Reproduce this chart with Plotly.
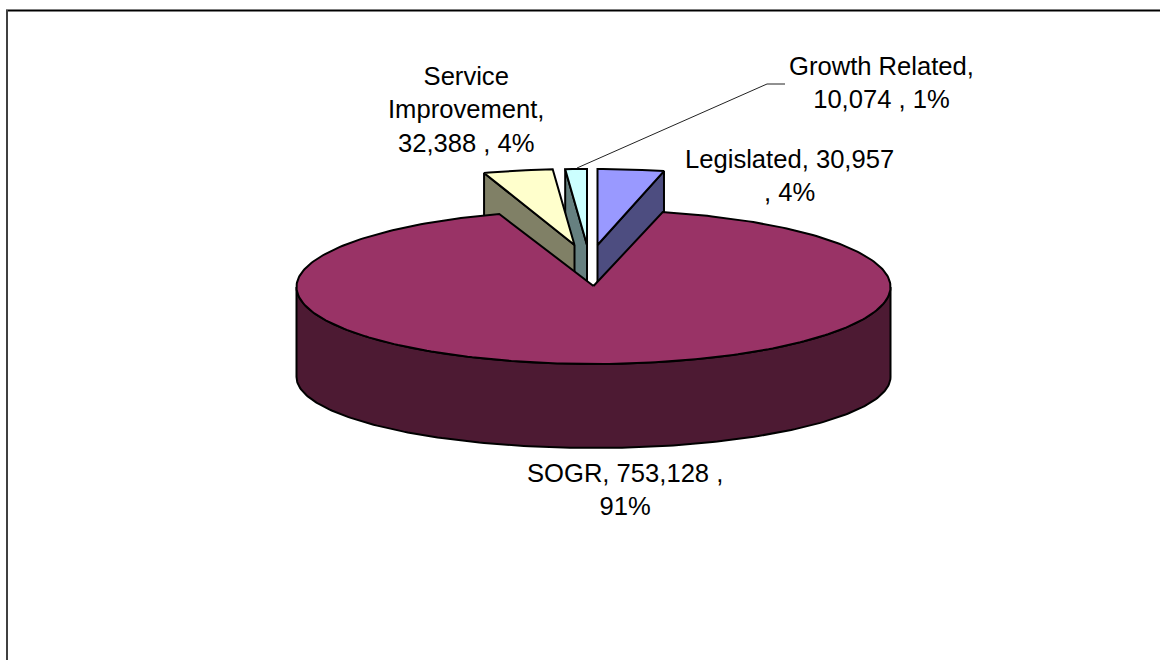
import numpy as np
import plotly.graph_objects as go

# Capital spending by category
categories = ["Legislated", "SOGR", "Service Improvement", "Growth Related"]
values = [30957, 753128, 32388, 10074]
percents = [4, 91, 4, 1]

TOP_COLORS = {"Legislated": "#9999FF", "SOGR": "#993366",
              "Service Improvement": "#FFFFCC", "Growth Related": "#CCFFFF"}
SIDE_COLORS = {"Legislated": "#4D4D80", "SOGR": "#4D1A33",
               "Service Improvement": "#808066", "Growth Related": "#668080"}

# Disc projection, in page pixels
CX, CY = 593.5, 287.0
RX, RY_TOP, RY_BOTTOM = 297.0, 77.0, 71.0
DEPTH = 90.0
APEX_DY = -1.0
# How far each exploded slice is pulled from the disc centre
EXPLODE = {"Legislated": (4.0, -41.0), "SOGR": (0.0, 0.0),
           "Service Improvement": (-19.0, -41.0), "Growth Related": (-6.5, -41.0)}
# Slices pushed towards the back of the scene look slightly narrower
DEPTH_SCALE = {"Legislated": 0.96, "SOGR": 1.0,
               "Service Improvement": 0.96, "Growth Related": 0.96}

fractions = np.array(values) / sum(values)
edges = np.concatenate([[0.0], np.cumsum(fractions)]) * 2 * np.pi
angles = {c: (edges[i], edges[i + 1]) for i, c in enumerate(categories)}


def rim_top(t, scale=1.0):
    return CX + scale * RX * np.sin(t), CY - RY_TOP * np.cos(t)


def rim_bottom(t):
    return CX + RX * np.sin(t), CY + DEPTH - RY_BOTTOM * np.cos(t)


def arc(a, b):
    n = max(3, int(abs(b - a) / np.radians(1.0)))
    return np.linspace(a, b, n)


def add_poly(fig, x, y, color, name):
    fig.add_trace(go.Scatter(
        x=list(x) + [x[0]], y=list(y) + [y[0]], mode="lines", fill="toself",
        fillcolor=color, line=dict(color="black", width=2), name=name,
        hoverinfo="name", showlegend=False))


def draw_wedge_cut(fig, cat, t):
    """Flat cut face running from the slice centre to the rim at angle t."""
    dx, dy = EXPLODE[cat]
    rx, ry = rim_top(t, DEPTH_SCALE[cat])
    px = [CX + dx, rx + dx, rx + dx, CX + dx]
    py = [CY + APEX_DY + dy, ry + dy, ry + dy + DEPTH, CY + APEX_DY + dy + DEPTH]
    add_poly(fig, px, py, SIDE_COLORS[cat], cat)


def draw_top(fig, cat):
    dx, dy = EXPLODE[cat]
    a, b = angles[cat]
    ts = arc(a, b)
    rx, ry = rim_top(ts, DEPTH_SCALE[cat])
    px = [CX + dx] + list(rx + dx)
    py = [CY + APEX_DY + dy] + list(ry + dy)
    add_poly(fig, px, py, TOP_COLORS[cat], cat)


def draw_front_wall(fig, cat):
    a, b = angles[cat]
    # Only the near half of the disc shows its wall
    a_vis, b_vis = max(a, np.pi / 2), min(b, 3 * np.pi / 2)
    ts = arc(a_vis, b_vis)
    tx, ty = rim_top(ts)
    bx, by = rim_bottom(ts[::-1])
    add_poly(fig, list(tx) + list(bx), list(ty) + list(by), SIDE_COLORS[cat], cat)


fig = go.Figure()

# Back-to-front painting order
draw_wedge_cut(fig, "Growth Related", angles["Growth Related"][0])
draw_top(fig, "Growth Related")
draw_wedge_cut(fig, "Legislated", angles["Legislated"][1])
draw_top(fig, "Legislated")
draw_wedge_cut(fig, "Service Improvement", angles["Service Improvement"][0])
draw_top(fig, "Service Improvement")
draw_front_wall(fig, "SOGR")
draw_top(fig, "SOGR")

# Leader line for the narrow slice
fig.add_trace(go.Scatter(
    x=[577, 767, 785], y=[168, 84, 84], mode="lines",
    line=dict(color="#222222", width=1), hoverinfo="skip", showlegend=False))


def label_text(i, breaks):
    full = f"{categories[i]}, {values[i]:,} , {percents[i]}%"
    for old, new in breaks:
        full = full.replace(old, new)
    return full


labels = [
    (0, [("30,957 , ", "30,957<br>, ")], 789, 175),
    (1, [("753,128 , ", "753,128 ,<br>")], 624.5, 489),
    (2, [("Service Improvement, ", "Service<br>Improvement,<br>")], 466, 109),
    (3, [("Related, ", "Related,<br>")], 881, 82),
]
for i, breaks, lx, ly in labels:
    fig.add_annotation(
        x=lx, y=ly, xref="x", yref="y", text=label_text(i, breaks), showarrow=False,
        align="center", xanchor="center", yanchor="middle",
        font=dict(family="Liberation Sans, Arial, sans-serif", size=25.6, color="black"))

# Chart frame: top and left edges only
fig.add_shape(type="line", x0=6, x1=1160, y0=10.5, y1=10.5, xref="x", yref="y",
              line=dict(color="black", width=2))
fig.add_shape(type="line", x0=7, x1=7, y0=10, y1=660, xref="x", yref="y",
              line=dict(color="#404040", width=2))

fig.update_layout(
    width=1160, height=660, margin=dict(l=0, r=0, t=0, b=0),
    paper_bgcolor="white", plot_bgcolor="white", showlegend=False,
    xaxis=dict(range=[0, 1160], visible=False, fixedrange=True),
    yaxis=dict(range=[660, 0], visible=False, fixedrange=True),
)

fig.write_html("out.html")
